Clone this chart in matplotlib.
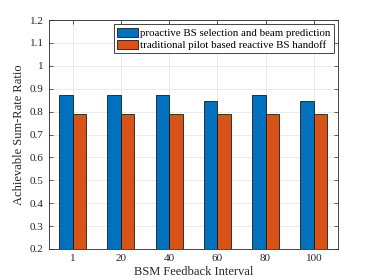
import numpy as np
import matplotlib.pyplot as plt

plt.rcParams['font.family'] = ['Liberation Serif', 'DejaVu Serif']
plt.rcParams['mathtext.fontset'] = 'stix'

# data
intervals = ['1', '20', '40', '60', '80', '100']
proactive = [0.872, 0.873, 0.873, 0.847, 0.874, 0.848]
reactive = [0.79, 0.79, 0.79, 0.79, 0.79, 0.79]
labels = ['proactive BS selection and beam prediction',
          'traditional pilot based reactive BS handoff']

fig = plt.figure(figsize=(3.74, 2.80), dpi=100)
ax = fig.add_axes([48.5 / 374, 31 / 280, 289.5 / 374, 229 / 280])

x = np.arange(1, len(intervals) + 1)
w = 0.28
ax.bar(x - w / 2, proactive, w, color='#0072BD', edgecolor='#1a1a1a', linewidth=0.6, label=labels[0], zorder=3)
ax.bar(x + w / 2, reactive, w, color='#D95319', edgecolor='#1a1a1a', linewidth=0.6, label=labels[1], zorder=3)

ax.set_xlim(0.5, 6.5)
ax.set_ylim(0.2, 1.2)
ax.set_xticks(x)
ax.set_xticklabels(intervals)
ax.set_yticks(np.arange(0.2, 1.21, 0.1))
ax.set_yticklabels(['0.2', '0.3', '0.4', '0.5', '0.6', '0.7', '0.8', '0.9', '1', '1.1', '1.2'])
ax.tick_params(direction='in', top=True, right=True, labelsize=8, length=3, width=0.5, colors='#262626')
ax.grid(True, color='#e6e6e6', linewidth=0.6, zorder=0)
for s in ax.spines.values():
    s.set_color('#262626')
    s.set_linewidth(0.6)

ax.set_xlabel('BSM Feedback Interval', fontsize=9, color='#262626', labelpad=2)
ax.set_ylabel('Achievable Sum-Rate Ratio', fontsize=9, color='#262626', labelpad=3)

leg = ax.legend(loc='upper right', prop={'size': 7.8}, fancybox=False, framealpha=1,
                edgecolor='#262626', borderpad=0.3, handlelength=2.0, handleheight=0.95,
                handletextpad=0.15, labelspacing=0.15, borderaxespad=0.4)
leg.get_frame().set_linewidth(0.6)

plt.savefig('out.png', dpi=100)
